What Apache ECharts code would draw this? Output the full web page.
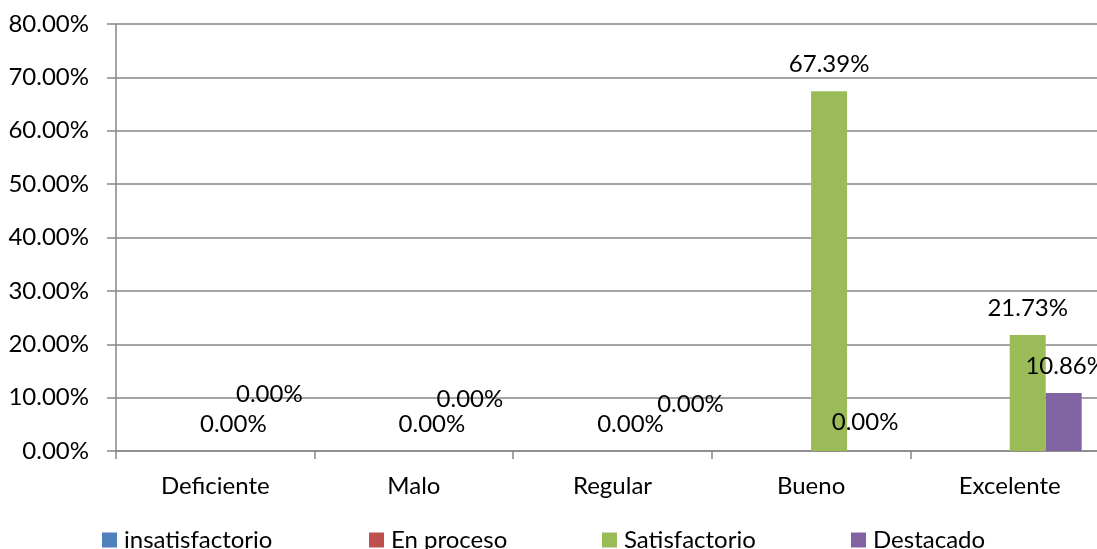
<!DOCTYPE html>
<html>
<head>
<meta charset="utf-8">
<script src="https://cdn.jsdelivr.net/npm/echarts@6/dist/echarts.min.js"></script>
<style>
  html, body { margin: 0; padding: 0; background: #fff; }
  #chart { width: 1097px; height: 549px; }
</style>
</head>
<body>
<div id="chart"></div>
<script>
// Rating levels on the category axis
const categories = ['Deficiente', 'Malo', 'Regular', 'Bueno', 'Excelente'];
// Share of students per level (percent), one array per achievement group
const insatisfactorio = [0, 0, 0, 0, 0];
const enProceso = [0, 0, 0, 0, 0];
const satisfactorio = [0, 0, 0, 67.39, 21.73];
const destacado = [0, 0, 0, 0, 10.86];
const seriesNames = ['insatisfactorio', 'En proceso', 'Satisfactorio', 'Destacado'];
// Value axis ticks (percent)
const yTicks = [0, 10, 20, 30, 40, 50, 60, 70, 80];

const FONT = 'Lato';
const FS = 24;
const TEXT = '#000';
const GRID_GRAY = '#868686';
const colors = ['#4F81BD', '#C0504D', '#9BBB59', '#8064A2'];

const pct = v => v.toFixed(2) + '%';

// Label shifts for the zero-valued "Destacado" labels so they clear their neighbours
const destacadoLabelShift = [[0, -30], [2, -25], [24, -20], [0, -2], [2, 0]];

const baseLabel = {
  show: true,
  position: 'top',
  distance: 15,
  fontFamily: FONT,
  fontSize: FS,
  color: TEXT,
  formatter: p => pct(p.value)
};

const chart = echarts.init(document.getElementById('chart'), null, { renderer: 'canvas' });

const legendLefts = [97, 364, 597, 846];

chart.setOption({
  animation: false,
  backgroundColor: '#fff',
  textStyle: { fontFamily: FONT },
  grid: {
    left: 116,
    right: -12,
    top: 24,
    bottom: 98,
    containLabel: false,
    outerBoundsMode: 'none'
  },
  legend: seriesNames.map((n, i) => ({
    data: [n],
    left: legendLefts[i],
    top: 523,
    itemWidth: 15,
    itemHeight: 15,
    icon: 'rect',
    textStyle: { fontFamily: FONT, fontSize: FS, color: TEXT, padding: [10, 0, 0, 2] },
    selectedMode: false
  })),
  xAxis: {
    type: 'category',
    data: categories,
    axisLine: { lineStyle: { color: GRID_GRAY, width: 1.5 } },
    axisTick: { show: true, length: 8, alignWithLabel: false, lineStyle: { color: GRID_GRAY, width: 1.5 } },
    axisLabel: { fontFamily: FONT, fontSize: FS, color: TEXT, margin: 23 },
    splitLine: { show: false }
  },
  yAxis: {
    type: 'value',
    min: yTicks[0],
    max: yTicks[yTicks.length - 1],
    interval: yTicks[1] - yTicks[0],
    axisLine: { show: true, lineStyle: { color: GRID_GRAY, width: 1.5 } },
    axisTick: { show: true, length: 9, lineStyle: { color: GRID_GRAY, width: 1.5 } },
    axisLabel: { fontFamily: FONT, fontSize: FS, color: TEXT, margin: 27, formatter: v => pct(v) },
    splitLine: { show: true, lineStyle: { color: GRID_GRAY, width: 1.5 } }
  },
  series: [
    { name: seriesNames[0], type: 'bar', data: insatisfactorio, itemStyle: { color: colors[0] },
      barGap: '0%', barCategoryGap: '27.5%' },
    { name: seriesNames[1], type: 'bar', data: enProceso, itemStyle: { color: colors[1] },
      barGap: '0%', barCategoryGap: '27.5%' },
    { name: seriesNames[2], type: 'bar', itemStyle: { color: colors[2] },
      barGap: '0%', barCategoryGap: '27.5%',
      label: baseLabel,
      data: satisfactorio },
    { name: seriesNames[3], type: 'bar', itemStyle: { color: colors[3] },
      barGap: '0%', barCategoryGap: '27.5%',
      label: baseLabel,
      data: destacado.map((v, i) => ({ value: v, label: { offset: destacadoLabelShift[i] } })) }
  ]
});
</script>
</body>
</html>
